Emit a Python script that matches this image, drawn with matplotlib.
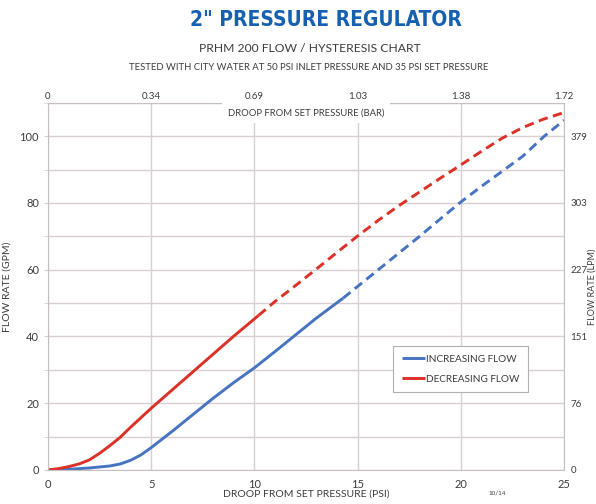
import matplotlib
matplotlib.use("Agg")
import matplotlib.pyplot as plt

plt.rcParams['font.family'] = ['Lato', 'DejaVu Sans']

# readings (PSI droop vs GPM)
inc_solid_x = [0, 1, 2, 3, 3.5, 4, 4.5, 5, 6, 7, 8, 9, 10, 11, 12, 13, 14.3]
inc_solid_y = [0, 0.2, 0.6, 1.2, 1.8, 2.9, 4.5, 6.7, 11.5, 16.5, 21.5, 26.2, 30.6, 35.5, 40.5, 45.5, 51.5]
inc_dash_x = [14.3, 15, 16, 17, 18, 19, 20, 21, 22, 23, 24, 25]
inc_dash_y = [51.5, 55, 60, 65, 70, 75.2, 80.3, 85, 89.5, 94, 99.8, 104.8]

dec_solid_x = [0, 0.5, 1, 1.5, 2, 2.5, 3, 3.5, 4, 5, 6, 7, 8, 9, 10.2]
dec_solid_y = [0, 0.4, 1.0, 1.8, 3.0, 5.0, 7.3, 9.8, 12.8, 18.5, 23.9, 29.3, 34.7, 40.1, 46.3]
dec_dash_x = [10.2, 11, 12, 13, 14, 15, 16, 17, 18, 19, 20, 21, 22, 23, 24, 25]
dec_dash_y = [46.3, 50.5, 55.3, 60.2, 65.2, 70.1, 74.8, 79.2, 83.3, 87.4, 91.4, 95.5, 99.4, 102.6, 105.1, 107.1]

psi_ticks = [0, 5, 10, 15, 20, 25]
bar_labels = ['0', '0.34', '0.69', '1.03', '1.38', '1.72']
gpm_ticks = [0, 20, 40, 60, 80, 100]
lpm_labels = ['0', '76', '151', '227', '303', '379']

blue = '#4674c1'
red = '#dc3127'
grid_c = '#d8d0d0'
txt_c = '#3c3c3c'

fig = plt.figure(figsize=(5.96, 5.04), dpi=100)
ax = fig.add_axes([0.0805, 0.0675, 0.866, 0.7285])

ax.plot(inc_solid_x, inc_solid_y, color=blue, lw=2.1, solid_capstyle='butt', label='INCREASING FLOW')
ax.plot(inc_dash_x, inc_dash_y, color=blue, lw=2.1, dashes=(3.2, 1.9))
ax.plot(dec_solid_x, dec_solid_y, color=red, lw=2.1, solid_capstyle='butt', label='DECREASING FLOW')
ax.plot(dec_dash_x, dec_dash_y, color=red, lw=2.1, dashes=(3.2, 1.9))

ax.set_xlim(0, 25)
ax.set_ylim(0, 110)
ax.set_xticks(psi_ticks)
ax.set_yticks(gpm_ticks)
ax.set_yticks(range(0, 111, 10), minor=True)
ax.grid(True, which='both', color=grid_c, lw=1.0)
ax.set_axisbelow(True)
ax.tick_params(axis='both', which='both', length=3, color=grid_c, labelsize=8, labelcolor=txt_c)
ax.tick_params(axis='x', length=0, pad=6.5)
for s in ax.spines.values():
    s.set_color('#c8c0c0')
ax.set_xlabel('DROOP FROM SET PRESSURE (PSI)', fontsize=7.5, color=txt_c, labelpad=0)
ax.set_ylabel('FLOW RATE (GPM)', fontsize=7.5, color=txt_c, labelpad=6)

ax_r = ax.twinx()
ax_r.set_ylim(0, 110)
ax_r.set_yticks(gpm_ticks)
ax_r.set_yticklabels(lpm_labels)
ax_r.tick_params(axis='y', length=0, labelsize=7, labelcolor=txt_c, pad=4.5)
for s in ax_r.spines.values():
    s.set_visible(False)

ax_t = ax.twiny()
ax_t.set_xlim(0, 25)
ax_t.set_xticks(psi_ticks)
ax_t.set_xticklabels(bar_labels)
ax_t.tick_params(axis='x', length=0, labelsize=7, labelcolor=txt_c, pad=1.5)
for s in ax_t.spines.values():
    s.set_visible(False)

ax_t.text(0.5, 0.973, 'DROOP FROM SET PRESSURE (BAR)', transform=ax.transAxes,
          ha='center', va='center', fontsize=6.8, color=txt_c,
          bbox=dict(facecolor='white', edgecolor='none', pad=4.5), zorder=5, clip_on=False)

leg = ax.legend(loc='upper left', bbox_to_anchor=(0.669, 0.337), fontsize=7.2,
                frameon=True, fancybox=False, edgecolor='#b0b0b0', framealpha=1,
                handlelength=2.3, handletextpad=0.1, labelspacing=1.1,
                borderpad=0.85, borderaxespad=0)
leg.get_frame().set_linewidth(0.8)
for t in leg.get_texts():
    t.set_color(txt_c)

fig.text(0.547, 0.96, '2" PRESSURE REGULATOR', ha='center', va='center', fontsize=15,
         fontweight='bold', fontstretch='condensed', color='#1560b0',
         family=['DejaVu Sans'])
fig.text(0.52, 0.903, 'PRHM 200 FLOW / HYSTERESIS CHART', ha='center', va='center',
         fontsize=8.7, color=txt_c)
fig.text(0.518, 0.866, 'TESTED WITH CITY WATER AT 50 PSI INLET PRESSURE AND 35 PSI SET PRESSURE',
         ha='center', va='center', fontsize=6.8, color=txt_c)
fig.text(0.835, 0.022, '10/14', ha='center', va='center', fontsize=4.5, color=txt_c)
fig.text(0.993, 0.43, 'FLOW RATE (LPM)', rotation=90, ha='center', va='center',
         fontsize=6.5, color=txt_c)

fig.savefig('out.png', dpi=100)
